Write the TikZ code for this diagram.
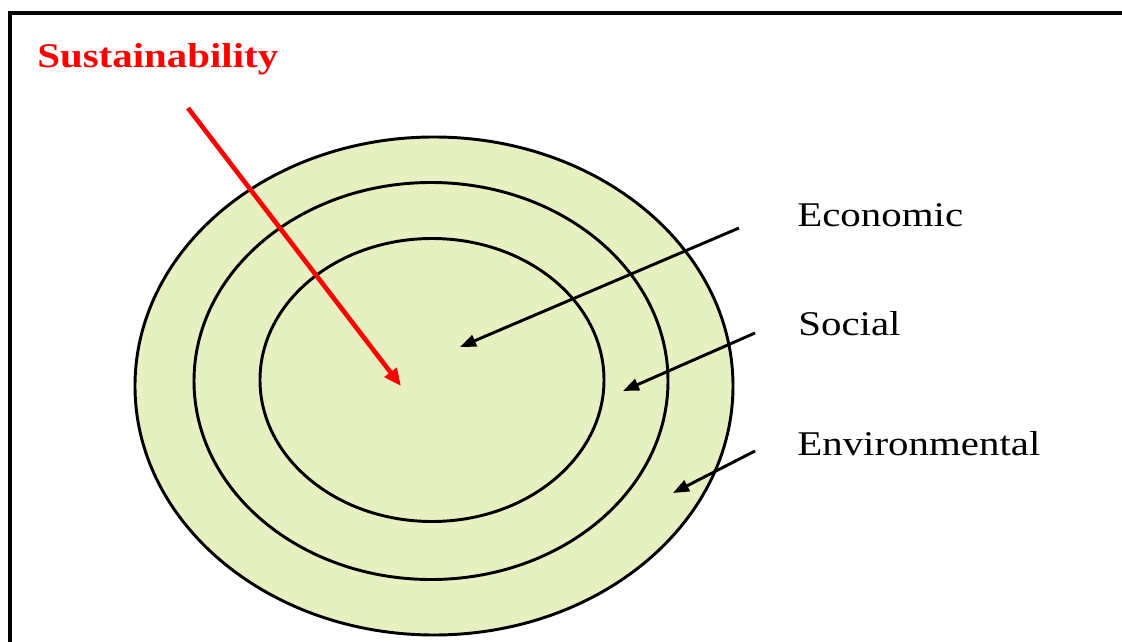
\documentclass[tikz,border=0pt]{standalone}
\usepackage{fontspec}
\setmainfont{Liberation Serif}
\usetikzlibrary{arrows.meta,shapes.geometric}
\definecolor{ringfill}{RGB}{231,240,193}
\begin{document}
\begin{tikzpicture}
    [
    x=0.75pt,y=-0.75pt,
    ring/.style={ellipse,draw,line width=2.2pt,fill=ringfill,inner sep=0pt},
    layer/.style={font=\fontsize{26}{30}\selectfont,anchor=base west,xscale=1.18,inner sep=0pt},
    pointer/.style={line width=2.2pt,-{Triangle[length=12pt,width=9pt]}}
    ]
    \useasboundingbox (0,0) rectangle (1122,642);
    \draw [line width=3pt] (10,700) -- (10,13) -- (1200,13);
    \node (outer) at (434,386) [ring,minimum width=448.5pt,minimum height=373.5pt] {};
    \node (middle) at (431,381) [ring,minimum width=355.5pt,minimum height=297.75pt] {};
    \node (inner) at (432,380) [ring,minimum width=258pt,minimum height=212.25pt] {};
    \node (sus) at (37,68) [layer,font=\fontsize{26}{30}\selectfont\bfseries,text=red] {Sustainability};
    \node (eco) at (797,226) [layer] {Economic};
    \node (soc) at (798,335) [layer] {Social};
    \node (env) at (797,455) [layer] {Environmental};
    \coordinate (sus tail) at (188,108);
    \coordinate (sus tip) at (401,386);
    \coordinate (eco tail) at (739,228);
    \coordinate (eco tip) at (460,347);
    \coordinate (soc tail) at (755,333);
    \coordinate (soc tip) at (623,391);
    \coordinate (env tail) at (755,451);
    \coordinate (env tip) at (673,493);
    \draw [pointer,red,line width=3.5pt,-{Triangle[length=13pt,width=11pt]}] (sus tail) -- (sus tip);
    \draw [pointer] (eco tail) -- (eco tip);
    \draw [pointer] (soc tail) -- (soc tip);
    \draw [pointer] (env tail) -- (env tip);
\end{tikzpicture}
\end{document}
